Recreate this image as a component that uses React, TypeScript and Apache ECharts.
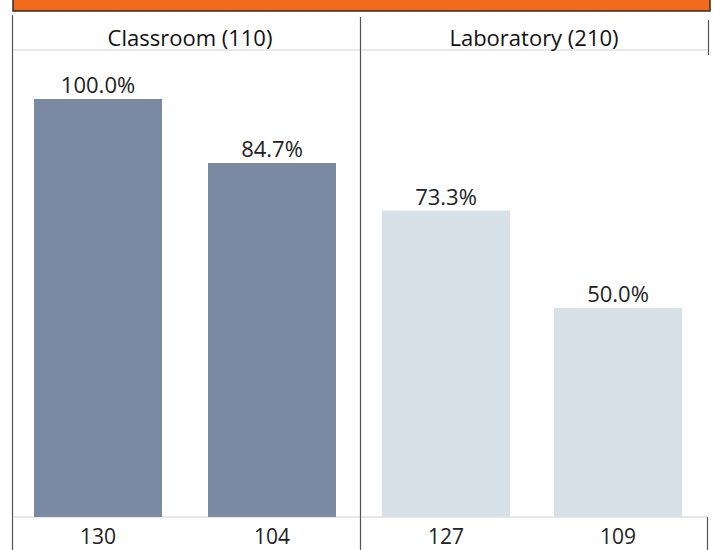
import React, { useEffect, useRef } from "react";
import * as echarts from "echarts";

const panelTitles = ["Classroom (110)", "Laboratory (210)"];
const classroomCounts = ["130", "104"];
const classroomPct = [100.0, 84.7];
const laboratoryCounts = ["127", "109"];
const laboratoryPct = [73.3, 50.0];

const DARK = "#7a8aa2";
const LIGHT = "#d9e1e8";
const LINE = "#555555";
const GRID_LINE = "#cfd3d6";

export default function App() {
  const ref = useRef<HTMLDivElement>(null);
  useEffect(() => {
    if (!ref.current) return;
    const chart = echarts.init(ref.current, undefined, { renderer: "svg" });
    const labelStyle = {
      show: true,
      position: "top" as const,
      distance: 4,
      fontFamily: "Open Sans",
      fontSize: 22,
      color: "#222",
      formatter: (p: any) => Number(p.value).toFixed(1) + "%",
    };
    const xAxisCommon = {
      type: "category" as const,
      axisLine: { show: false },
      axisTick: { show: false },
      axisLabel: {
        margin: 8,
        fontFamily: "Open Sans",
        fontSize: 21,
        color: "#222",
      },
    };
    const yAxisCommon = {
      type: "value" as const,
      min: 0,
      max: 100,
      show: false,
      splitLine: { show: false },
    };
    chart.setOption({
      animation: false,
      backgroundColor: "#ffffff",
      grid: [
        { left: 11, width: 348, top: 99, height: 418 },
        { left: 360, width: 344, top: 99, height: 418 },
      ],
      xAxis: [
        { ...xAxisCommon, gridIndex: 0, data: classroomCounts },
        { ...xAxisCommon, gridIndex: 1, data: laboratoryCounts },
      ],
      yAxis: [
        { ...yAxisCommon, gridIndex: 0 },
        { ...yAxisCommon, gridIndex: 1 },
      ],
      series: [
        {
          type: "bar",
          xAxisIndex: 0,
          yAxisIndex: 0,
          data: classroomPct,
          barWidth: 128,
          itemStyle: { color: DARK },
          label: labelStyle,
        },
        {
          type: "bar",
          xAxisIndex: 1,
          yAxisIndex: 1,
          data: laboratoryPct,
          barWidth: 128,
          itemStyle: { color: LIGHT },
          label: labelStyle,
        },
      ],
      graphic: [
        {
          type: "rect",
          shape: { x: 13, y: -2, width: 697, height: 13 },
          style: { fill: "#f26a1b", stroke: "#3a2a20", lineWidth: 1.5 },
        },
        {
          type: "line",
          shape: { x1: 12, y1: 50, x2: 708, y2: 50 },
          style: { stroke: GRID_LINE, lineWidth: 1 },
        },
        {
          type: "line",
          shape: { x1: 12, y1: 517, x2: 708, y2: 517 },
          style: { stroke: GRID_LINE, lineWidth: 1 },
        },
        {
          type: "line",
          shape: { x1: 12.5, y1: 15, x2: 12.5, y2: 550 },
          style: { stroke: LINE, lineWidth: 1.2 },
        },
        {
          type: "line",
          shape: { x1: 360.5, y1: 17, x2: 360.5, y2: 550 },
          style: { stroke: LINE, lineWidth: 1.2 },
        },
        {
          type: "line",
          shape: { x1: 708.5, y1: 20, x2: 708.5, y2: 55 },
          style: { stroke: LINE, lineWidth: 1.2 },
        },
        {
          type: "line",
          shape: { x1: 707.5, y1: 517, x2: 707.5, y2: 550 },
          style: { stroke: LINE, lineWidth: 1.2 },
        },
        {
          type: "text",
          x: 190,
          y: 37,
          style: {
            text: panelTitles[0],
            fontFamily: "Open Sans",
            fontSize: 22,
            fill: "#111",
            align: "center",
            verticalAlign: "middle",
          },
        },
        {
          type: "text",
          x: 534,
          y: 37,
          style: {
            text: panelTitles[1],
            fontFamily: "Open Sans",
            fontSize: 22,
            fill: "#111",
            align: "center",
            verticalAlign: "middle",
          },
        },
      ],
    });
    return () => chart.dispose();
  }, []);
  return (
    <div
      ref={ref}
      style={{ position: "absolute", left: 0, top: 0, width: 713, height: 550 }}
    />
  );
}
